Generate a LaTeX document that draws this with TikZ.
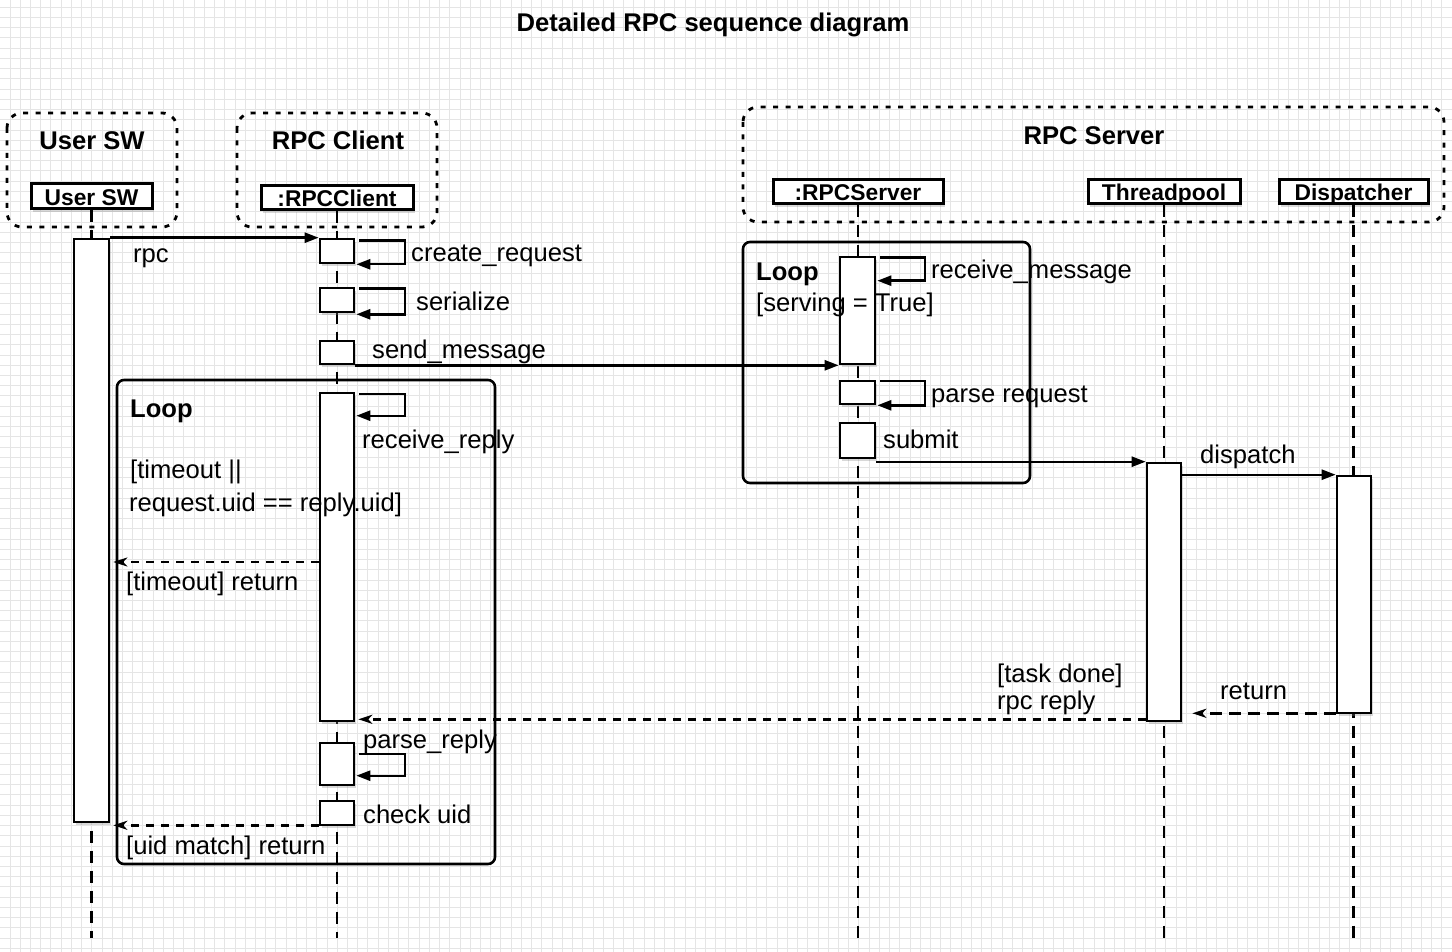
\documentclass[tikz,border=0pt]{standalone}
\usepackage{fontspec}
\setmainfont{Liberation Sans}
\usetikzlibrary{arrows.meta,shadows}
\newcommand\mysz{\fontsize{25.6}{30}\selectfont}
\newcommand\myact{\fontsize{22.8}{26}\selectfont}
\begin{document}
\begin{tikzpicture}[x=1pt,y=-1pt,
  lbl/.style={inner sep=0pt, anchor=base west, font=\mysz},
  hdr/.style={inner sep=0pt, anchor=base, font=\bfseries\mysz},
  actor/.style={draw, line width=3pt, fill=white, inner sep=0pt,
    font=\bfseries\myact, text height=18pt, text depth=0pt,
    drop shadow={opacity=0.3, shadow xshift=2pt, shadow yshift=-3pt}},
  bar/.style={draw, line width=2.6pt, fill=white, inner sep=0pt,
    drop shadow={opacity=0.3, shadow xshift=2pt, shadow yshift=-3pt}},
  grp/.style={line width=2.8pt, dash pattern=on 5pt off 7.5pt, rounded corners=15pt},
  frm/.style={line width=2.6pt, rounded corners=7pt},
  life/.style={line width=2.6pt, dash pattern=on 12pt off 8pt},
  msg/.style={line width=2.4pt, -{Triangle[length=14pt,width=10pt]}},
  ret/.style={line width=2.4pt, dash pattern=on 8pt off 7pt, -{Stealth[length=14pt,width=9pt,inset=4pt]}},
  retb/.style={line width=2.4pt, dash pattern=on 12pt off 7pt, -{Stealth[length=14pt,width=9pt,inset=4pt]}},
  gridline/.style={draw=black!10, line width=1pt}
]
\useasboundingbox (0,0) rectangle (1452,952);
\fill[white] (0,0) rectangle (1452,952);
\foreach \i in {0,...,141} \draw[gridline] ({10+\i*10.228},0) -- ({10+\i*10.228},952);
\foreach \j in {0,...,92} \draw[gridline] (0,{7.3+\j*10.228}) -- (1452,{7.3+\j*10.228});

% title
\node[hdr] (title) at (713,32) {Detailed RPC sequence diagram};

% groups
\draw[grp] (7,113) rectangle (177,227);
\draw[grp] (237,113) rectangle (437,227);
\draw[grp] (743,107) rectangle (1444,222);
\node[hdr] (g1) at (92,150) {User SW};
\node[hdr] (g2) at (338,150) {RPC Client};
\node[hdr] (g3) at (1094,145) {RPC Server};

% loop frames
\draw[frm] (117,380) rectangle (495,864);
\draw[frm] (743,242) rectangle (1030,483);

% actors
\node[actor, minimum width=121pt, minimum height=25pt] (ua) at (91.5,196.5) {User SW};
\node[actor, minimum width=152pt, minimum height=24pt] (ca) at (337,198) {:RPCClient};
\node[actor, minimum width=170pt, minimum height=24pt] (sa) at (858,192) {:RPCServer};
\node[actor, minimum width=152pt, minimum height=24pt] (ta) at (1164,192) {Threadpool};
\node[actor, minimum width=149pt, minimum height=24pt] (da) at (1353.5,192) {Dispatcher};

% lifelines
\coordinate (lend) at (0,938);
\draw[life] (ua.south) -- (ua.south |- lend);
\draw[life] (ca.south) -- (ca.south |- lend);
\draw[life] (sa.south) -- (sa.south |- lend);
\draw[life] (ta.south) -- (ta.south |- lend);
\draw[life] (da.south) -- (da.south |- lend);

% activation bars
\node[bar, minimum width=35pt, minimum height=583pt] (ub) at (91.5,530.5) {};
\node[bar, minimum width=34pt, minimum height=24pt] (cr) at (337,251) {};
\node[bar, minimum width=34pt, minimum height=24pt] (ser) at (337,300) {};
\node[bar, minimum width=34pt, minimum height=23pt] (snd) at (337,352.5) {};
\node[bar, minimum width=34pt, minimum height=328pt] (rcv) at (337,557) {};
\node[bar, minimum width=34pt, minimum height=42pt] (prs) at (337,764) {};
\node[bar, minimum width=34pt, minimum height=24pt] (chk) at (337,813) {};
\node[bar, minimum width=35pt, minimum height=107pt] (rm) at (857.5,310.5) {};
\node[bar, minimum width=35pt, minimum height=23pt] (pr) at (857.5,392.5) {};
\node[bar, minimum width=35pt, minimum height=35pt] (sb) at (857.5,440.5) {};
\node[bar, minimum width=34pt, minimum height=258pt] (tp) at (1164,592) {};
\node[bar, minimum width=34pt, minimum height=237pt] (dp) at (1354,594.5) {};

% self loops
\coordinate (lxc) at (405,0);
\coordinate (lxs) at (925,0);
\draw[msg] ([xshift=4pt,yshift=-3pt]cr.north east) -- ([yshift=-3pt]cr.north east -| lxc) |- ([xshift=1pt]cr.south east);
\draw[msg] ([xshift=4pt,yshift=-2pt]ser.north east) -- ([yshift=-2pt]ser.north east -| lxc) |- ([xshift=1pt,yshift=-1pt]ser.south east);
\draw[msg] ([xshift=4pt,yshift=-2pt]rcv.north east) -- ([yshift=-2pt]rcv.north east -| lxc) |- ([xshift=1pt,yshift=-24pt]rcv.north east);
\draw[msg] ([xshift=4pt,yshift=-12pt]prs.north east) -- ([yshift=-12pt]prs.north east -| lxc) |- ([xshift=1pt,yshift=-34pt]prs.north east);
\draw[msg] ([xshift=4pt,yshift=-2pt]rm.north east) -- ([yshift=-2pt]rm.north east -| lxs) |- ([xshift=1pt,yshift=-25pt]rm.north east);
\draw[msg] ([xshift=4pt,yshift=-1pt]pr.north east) -- ([yshift=-1pt]pr.north east -| lxs) |- ([xshift=1pt]pr.south east);

% messages
\draw[msg] (ub.north east) -- (cr.north west);
\draw[msg] (snd.south east) -- (rm.south west);
\draw[msg] (sb.south east |- tp.north west) -- (tp.north west);
\draw[msg] (tp.east |- dp.north west) -- (dp.north west);
\draw[retb, shorten >=10pt] ([yshift=1pt]dp.south west) -- ([yshift=1pt]dp.south west -| tp.east);
\draw[ret, shorten >=3pt] ([yshift=3pt]tp.south west) -- ([yshift=3pt]rcv.south east);
\coordinate (tret) at (0,562);
\draw[ret, shorten >=3pt] (rcv.west |- tret) -- (ub.east |- tret);
\draw[ret, shorten >=3pt] ([yshift=1pt]chk.south west) -- ([yshift=1pt]chk.south west -| ub.east);

% labels
\node[lbl] (l1) at (133,263) {rpc};
\node[lbl] (l2) at (411,262) {create\_request};
\node[lbl] (l3) at (416,311) {serialize};
\node[lbl] (l4) at (372,358) {send\_message};
\node[lbl] (l5) at (362,448) {receive\_reply};
\node[lbl, font=\bfseries\mysz] (l6) at (130,417) {Loop};
\node[lbl] (l7) at (130,478) {[timeout ||};
\node[lbl] (l8) at (129,511) {request.uid == reply.uid]};
\node[lbl] (l9) at (126,590) {[timeout] return};
\node[lbl] (l10) at (363,748) {parse\_reply};
\node[lbl] (l11) at (363,823) {check uid};
\node[lbl] (l12) at (126,854) {[uid match] return};
\node[lbl, font=\bfseries\mysz] (l13) at (756,280) {Loop};
\node[lbl] (l14) at (756,312) {[serving = True]};
\node[lbl] (l15) at (931,279) {receive\_message};
\node[lbl] (l16) at (931,402) {parse request};
\node[lbl] (l17) at (883,448) {submit};
\node[lbl] (l18) at (1200,463) {dispatch};
\node[lbl] (l19) at (997,682) {[task done]};
\node[lbl] (l20) at (997,709) {rpc reply};
\node[lbl] (l21) at (1220,699) {return};
\end{tikzpicture}
\end{document}
